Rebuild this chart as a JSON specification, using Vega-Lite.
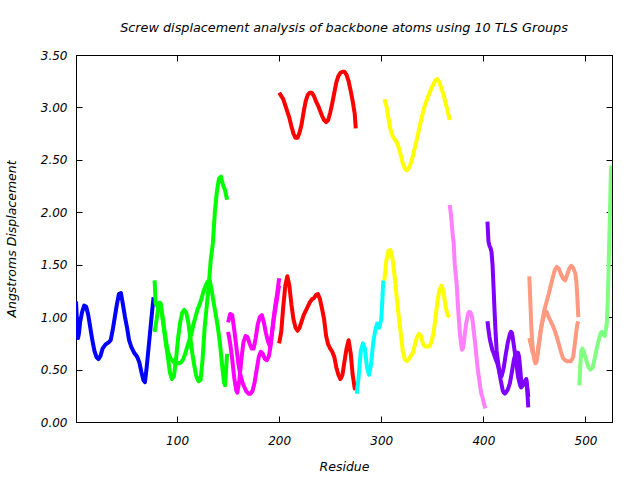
{
  "$schema": "https://vega.github.io/schema/vega-lite/v6.json",
  "width": 536,
  "height": 367,
  "autosize": {"type": "none"},
  "padding": {"left": 76, "top": 55, "right": 28, "bottom": 58},
  "background": "white",
  "title": {"text": "Screw displacement analysis of backbone atoms using 10 TLS Groups", "offset": 14},
  "config": {
    "view": {"stroke": "black", "strokeWidth": 1},
    "title": {"font": "DejaVu Sans", "fontStyle": "italic", "fontWeight": "normal", "fontSize": 12.8, "color": "black", "anchor": "middle"},
    "axis": {"labelFont": "DejaVu Sans", "labelFontStyle": "italic", "labelFontSize": 12, "labelColor": "black", "titleFont": "DejaVu Sans", "titleFontStyle": "italic", "titleFontWeight": "normal", "titleFontSize": 12.5, "titleColor": "black", "domainColor": "black", "tickColor": "black", "grid": false, "tickSize": -6}
  },
  "data": {"values": [
    {"s":"b","g":"1","r":1,"v":1.15},{"s":"b","g":"1","r":2,"v":0.95},{"s":"b","g":"1","r":3,"v":0.80},{"s":"b","g":"1","r":4,"v":0.85},{"s":"b","g":"1","r":5,"v":0.95},{"s":"b","g":"1","r":7,"v":1.05},{"s":"b","g":"1","r":9,"v":1.11},{"s":"b","g":"1","r":11,"v":1.10},{"s":"b","g":"1","r":13,"v":1.02},{"s":"b","g":"1","r":15,"v":0.90},{"s":"b","g":"1","r":17,"v":0.78},{"s":"b","g":"1","r":19,"v":0.68},{"s":"b","g":"1","r":21,"v":0.62},{"s":"b","g":"1","r":23,"v":0.60},{"s":"b","g":"1","r":25,"v":0.63},{"s":"b","g":"1","r":27,"v":0.70},{"s":"b","g":"1","r":30,"v":0.74},{"s":"b","g":"1","r":33,"v":0.76},{"s":"b","g":"1","r":35,"v":0.78},{"s":"b","g":"1","r":37,"v":0.88},{"s":"b","g":"1","r":39,"v":1.00},{"s":"b","g":"1","r":41,"v":1.12},{"s":"b","g":"1","r":43,"v":1.22},{"s":"b","g":"1","r":45,"v":1.23},{"s":"b","g":"1","r":47,"v":1.12},{"s":"b","g":"1","r":49,"v":1.00},{"s":"b","g":"1","r":51,"v":0.90},{"s":"b","g":"1","r":53,"v":0.78},{"s":"b","g":"1","r":55,"v":0.72},{"s":"b","g":"1","r":58,"v":0.66},{"s":"b","g":"1","r":61,"v":0.62},{"s":"b","g":"1","r":63,"v":0.57},{"s":"b","g":"1","r":65,"v":0.48},{"s":"b","g":"1","r":67,"v":0.40},{"s":"b","g":"1","r":68.5,"v":0.38},{"s":"b","g":"1","r":70,"v":0.50},{"s":"b","g":"1","r":72,"v":0.70},{"s":"b","g":"1","r":74,"v":0.90},{"s":"b","g":"1","r":76,"v":1.10},{"s":"b","g":"1","r":77,"v":1.19},

    {"s":"ga","g":"2","r":78,"v":1.35},{"s":"ga","g":"2","r":79,"v":1.13},{"s":"ga","g":"2","r":81,"v":1.10},{"s":"ga","g":"2","r":83,"v":1.14},{"s":"ga","g":"2","r":85,"v":1.05},{"s":"ga","g":"2","r":87,"v":0.90},{"s":"ga","g":"2","r":89,"v":0.75},{"s":"ga","g":"2","r":91,"v":0.62},{"s":"ga","g":"2","r":93,"v":0.47},{"s":"ga","g":"2","r":95,"v":0.41},{"s":"ga","g":"2","r":97,"v":0.44},{"s":"ga","g":"2","r":99,"v":0.60},{"s":"ga","g":"2","r":101,"v":0.80},{"s":"ga","g":"2","r":103,"v":0.95},{"s":"ga","g":"2","r":105,"v":1.04},{"s":"ga","g":"2","r":107,"v":1.07},{"s":"ga","g":"2","r":109,"v":1.04},{"s":"ga","g":"2","r":111,"v":0.95},{"s":"ga","g":"2","r":113,"v":0.80},{"s":"ga","g":"2","r":115,"v":0.65},{"s":"ga","g":"2","r":117,"v":0.53},{"s":"ga","g":"2","r":119,"v":0.43},{"s":"ga","g":"2","r":121,"v":0.39},{"s":"ga","g":"2","r":123,"v":0.40},{"s":"ga","g":"2","r":125,"v":0.60},{"s":"ga","g":"2","r":127,"v":0.90},{"s":"ga","g":"2","r":129,"v":1.10},{"s":"ga","g":"2","r":131,"v":1.30},{"s":"ga","g":"2","r":133,"v":1.55},{"s":"ga","g":"2","r":135,"v":1.70},{"s":"ga","g":"2","r":137,"v":2.00},{"s":"ga","g":"2","r":139,"v":2.20},{"s":"ga","g":"2","r":141,"v":2.32},{"s":"ga","g":"2","r":143,"v":2.34},{"s":"ga","g":"2","r":145,"v":2.26},{"s":"ga","g":"2","r":147,"v":2.21},{"s":"ga","g":"2","r":149,"v":2.12},

    {"s":"gb","g":"2","r":78,"v":0.86},{"s":"gb","g":"2","r":80,"v":0.98},{"s":"gb","g":"2","r":82,"v":1.12},{"s":"gb","g":"2","r":84,"v":1.13},{"s":"gb","g":"2","r":86,"v":0.98},{"s":"gb","g":"2","r":88,"v":0.85},{"s":"gb","g":"2","r":90,"v":0.72},{"s":"gb","g":"2","r":92,"v":0.64},{"s":"gb","g":"2","r":94,"v":0.60},{"s":"gb","g":"2","r":96,"v":0.58},{"s":"gb","g":"2","r":98,"v":0.56},{"s":"gb","g":"2","r":100,"v":0.56},{"s":"gb","g":"2","r":102,"v":0.56},{"s":"gb","g":"2","r":104,"v":0.57},{"s":"gb","g":"2","r":106,"v":0.60},{"s":"gb","g":"2","r":108,"v":0.65},{"s":"gb","g":"2","r":110,"v":0.72},{"s":"gb","g":"2","r":112,"v":0.78},{"s":"gb","g":"2","r":114,"v":0.84},{"s":"gb","g":"2","r":116,"v":0.93},{"s":"gb","g":"2","r":118,"v":1.00},{"s":"gb","g":"2","r":120,"v":1.07},{"s":"gb","g":"2","r":122,"v":1.12},{"s":"gb","g":"2","r":124,"v":1.18},{"s":"gb","g":"2","r":126,"v":1.25},{"s":"gb","g":"2","r":128,"v":1.30},{"s":"gb","g":"2","r":130,"v":1.34},{"s":"gb","g":"2","r":132,"v":1.35},{"s":"gb","g":"2","r":134,"v":1.25},{"s":"gb","g":"2","r":136,"v":1.13},{"s":"gb","g":"2","r":138,"v":1.02},{"s":"gb","g":"2","r":140,"v":0.90},{"s":"gb","g":"2","r":142,"v":0.75},{"s":"gb","g":"2","r":144,"v":0.55},{"s":"gb","g":"2","r":146,"v":0.38},{"s":"gb","g":"2","r":147,"v":0.35},{"s":"gb","g":"2","r":148,"v":0.50},{"s":"gb","g":"2","r":149,"v":0.65},

    {"s":"ma","g":"3","r":150,"v":0.95},{"s":"ma","g":"3","r":152,"v":1.03},{"s":"ma","g":"3","r":154,"v":1.02},{"s":"ma","g":"3","r":156,"v":0.88},{"s":"ma","g":"3","r":158,"v":0.72},{"s":"ma","g":"3","r":160,"v":0.56},{"s":"ma","g":"3","r":162,"v":0.45},{"s":"ma","g":"3","r":164,"v":0.38},{"s":"ma","g":"3","r":166,"v":0.33},{"s":"ma","g":"3","r":168,"v":0.29},{"s":"ma","g":"3","r":170,"v":0.27},{"s":"ma","g":"3","r":172,"v":0.27},{"s":"ma","g":"3","r":174,"v":0.30},{"s":"ma","g":"3","r":176,"v":0.38},{"s":"ma","g":"3","r":178,"v":0.50},{"s":"ma","g":"3","r":180,"v":0.62},{"s":"ma","g":"3","r":182,"v":0.67},{"s":"ma","g":"3","r":184,"v":0.65},{"s":"ma","g":"3","r":186,"v":0.60},{"s":"ma","g":"3","r":188,"v":0.59},{"s":"ma","g":"3","r":190,"v":0.63},{"s":"ma","g":"3","r":192,"v":0.75},{"s":"ma","g":"3","r":194,"v":0.95},{"s":"ma","g":"3","r":196,"v":1.10},{"s":"ma","g":"3","r":198,"v":1.22},{"s":"ma","g":"3","r":200,"v":1.37},

    {"s":"mb","g":"3","r":150,"v":0.86},{"s":"mb","g":"3","r":152,"v":0.75},{"s":"mb","g":"3","r":154,"v":0.60},{"s":"mb","g":"3","r":156,"v":0.42},{"s":"mb","g":"3","r":158,"v":0.30},{"s":"mb","g":"3","r":159,"v":0.28},{"s":"mb","g":"3","r":161,"v":0.40},{"s":"mb","g":"3","r":163,"v":0.60},{"s":"mb","g":"3","r":165,"v":0.76},{"s":"mb","g":"3","r":167,"v":0.82},{"s":"mb","g":"3","r":169,"v":0.81},{"s":"mb","g":"3","r":171,"v":0.75},{"s":"mb","g":"3","r":173,"v":0.70},{"s":"mb","g":"3","r":175,"v":0.70},{"s":"mb","g":"3","r":177,"v":0.80},{"s":"mb","g":"3","r":179,"v":0.93},{"s":"mb","g":"3","r":181,"v":1.00},{"s":"mb","g":"3","r":183,"v":1.02},{"s":"mb","g":"3","r":185,"v":0.95},{"s":"mb","g":"3","r":187,"v":0.85},{"s":"mb","g":"3","r":189,"v":0.77},{"s":"mb","g":"3","r":191,"v":0.72},{"s":"mb","g":"3","r":193,"v":0.85},{"s":"mb","g":"3","r":195,"v":1.00},{"s":"mb","g":"3","r":197,"v":1.12},{"s":"mb","g":"3","r":199,"v":1.25},{"s":"mb","g":"3","r":200,"v":1.30},

    {"s":"ra","g":"4","r":200,"v":3.14},{"s":"ra","g":"4","r":202,"v":3.11},{"s":"ra","g":"4","r":204,"v":3.08},{"s":"ra","g":"4","r":206,"v":3.02},{"s":"ra","g":"4","r":208,"v":2.96},{"s":"ra","g":"4","r":210,"v":2.90},{"s":"ra","g":"4","r":212,"v":2.82},{"s":"ra","g":"4","r":214,"v":2.75},{"s":"ra","g":"4","r":216,"v":2.71},{"s":"ra","g":"4","r":218,"v":2.71},{"s":"ra","g":"4","r":220,"v":2.76},{"s":"ra","g":"4","r":222,"v":2.84},{"s":"ra","g":"4","r":224,"v":2.96},{"s":"ra","g":"4","r":226,"v":3.06},{"s":"ra","g":"4","r":228,"v":3.12},{"s":"ra","g":"4","r":230,"v":3.14},{"s":"ra","g":"4","r":232,"v":3.14},{"s":"ra","g":"4","r":234,"v":3.11},{"s":"ra","g":"4","r":236,"v":3.06},{"s":"ra","g":"4","r":238,"v":3.02},{"s":"ra","g":"4","r":240,"v":2.97},{"s":"ra","g":"4","r":242,"v":2.92},{"s":"ra","g":"4","r":244,"v":2.88},{"s":"ra","g":"4","r":246,"v":2.86},{"s":"ra","g":"4","r":248,"v":2.88},{"s":"ra","g":"4","r":250,"v":2.95},{"s":"ra","g":"4","r":252,"v":3.04},{"s":"ra","g":"4","r":254,"v":3.14},{"s":"ra","g":"4","r":256,"v":3.24},{"s":"ra","g":"4","r":258,"v":3.30},{"s":"ra","g":"4","r":260,"v":3.33},{"s":"ra","g":"4","r":262,"v":3.34},{"s":"ra","g":"4","r":264,"v":3.34},{"s":"ra","g":"4","r":266,"v":3.31},{"s":"ra","g":"4","r":268,"v":3.25},{"s":"ra","g":"4","r":270,"v":3.16},{"s":"ra","g":"4","r":272,"v":3.06},{"s":"ra","g":"4","r":274,"v":2.94},{"s":"ra","g":"4","r":275,"v":2.80},

    {"s":"rb","g":"4","r":200,"v":0.75},{"s":"rb","g":"4","r":202,"v":0.86},{"s":"rb","g":"4","r":204,"v":1.10},{"s":"rb","g":"4","r":206,"v":1.30},{"s":"rb","g":"4","r":208,"v":1.39},{"s":"rb","g":"4","r":210,"v":1.30},{"s":"rb","g":"4","r":212,"v":1.12},{"s":"rb","g":"4","r":214,"v":0.98},{"s":"rb","g":"4","r":216,"v":0.90},{"s":"rb","g":"4","r":218,"v":0.87},{"s":"rb","g":"4","r":220,"v":0.90},{"s":"rb","g":"4","r":222,"v":0.96},{"s":"rb","g":"4","r":224,"v":1.02},{"s":"rb","g":"4","r":226,"v":1.06},{"s":"rb","g":"4","r":228,"v":1.10},{"s":"rb","g":"4","r":230,"v":1.14},{"s":"rb","g":"4","r":232,"v":1.17},{"s":"rb","g":"4","r":234,"v":1.18},{"s":"rb","g":"4","r":236,"v":1.21},{"s":"rb","g":"4","r":238,"v":1.22},{"s":"rb","g":"4","r":240,"v":1.17},{"s":"rb","g":"4","r":242,"v":1.08},{"s":"rb","g":"4","r":244,"v":0.98},{"s":"rb","g":"4","r":246,"v":0.82},{"s":"rb","g":"4","r":248,"v":0.74},{"s":"rb","g":"4","r":250,"v":0.70},{"s":"rb","g":"4","r":252,"v":0.67},{"s":"rb","g":"4","r":254,"v":0.62},{"s":"rb","g":"4","r":256,"v":0.52},{"s":"rb","g":"4","r":258,"v":0.45},{"s":"rb","g":"4","r":260,"v":0.41},{"s":"rb","g":"4","r":262,"v":0.45},{"s":"rb","g":"4","r":264,"v":0.58},{"s":"rb","g":"4","r":266,"v":0.70},{"s":"rb","g":"4","r":268,"v":0.78},{"s":"rb","g":"4","r":270,"v":0.66},{"s":"rb","g":"4","r":272,"v":0.45},{"s":"rb","g":"4","r":274,"v":0.32},{"s":"rb","g":"4","r":275,"v":0.38},

    {"s":"c","g":"5","r":276,"v":0.27},{"s":"c","g":"5","r":278,"v":0.45},{"s":"c","g":"5","r":280,"v":0.68},{"s":"c","g":"5","r":282,"v":0.75},{"s":"c","g":"5","r":284,"v":0.70},{"s":"c","g":"5","r":286,"v":0.52},{"s":"c","g":"5","r":288,"v":0.45},{"s":"c","g":"5","r":290,"v":0.55},{"s":"c","g":"5","r":292,"v":0.75},{"s":"c","g":"5","r":294,"v":0.87},{"s":"c","g":"5","r":296,"v":0.94},{"s":"c","g":"5","r":298,"v":0.90},{"s":"c","g":"5","r":300,"v":0.98},{"s":"c","g":"5","r":301,"v":1.15},{"s":"c","g":"5","r":302,"v":1.35},

    {"s":"ya","g":"6","r":303,"v":3.08},{"s":"ya","g":"6","r":305,"v":3.02},{"s":"ya","g":"6","r":307,"v":2.90},{"s":"ya","g":"6","r":309,"v":2.79},{"s":"ya","g":"6","r":311,"v":2.73},{"s":"ya","g":"6","r":313,"v":2.70},{"s":"ya","g":"6","r":315,"v":2.67},{"s":"ya","g":"6","r":317,"v":2.62},{"s":"ya","g":"6","r":319,"v":2.55},{"s":"ya","g":"6","r":321,"v":2.47},{"s":"ya","g":"6","r":323,"v":2.42},{"s":"ya","g":"6","r":325,"v":2.40},{"s":"ya","g":"6","r":327,"v":2.42},{"s":"ya","g":"6","r":329,"v":2.47},{"s":"ya","g":"6","r":331,"v":2.54},{"s":"ya","g":"6","r":333,"v":2.62},{"s":"ya","g":"6","r":335,"v":2.70},{"s":"ya","g":"6","r":337,"v":2.79},{"s":"ya","g":"6","r":339,"v":2.88},{"s":"ya","g":"6","r":341,"v":2.96},{"s":"ya","g":"6","r":343,"v":3.03},{"s":"ya","g":"6","r":345,"v":3.08},{"s":"ya","g":"6","r":347,"v":3.13},{"s":"ya","g":"6","r":349,"v":3.18},{"s":"ya","g":"6","r":351,"v":3.22},{"s":"ya","g":"6","r":353,"v":3.26},{"s":"ya","g":"6","r":355,"v":3.27},{"s":"ya","g":"6","r":357,"v":3.24},{"s":"ya","g":"6","r":359,"v":3.18},{"s":"ya","g":"6","r":361,"v":3.12},{"s":"ya","g":"6","r":363,"v":3.04},{"s":"ya","g":"6","r":365,"v":2.97},{"s":"ya","g":"6","r":367,"v":2.88},

    {"s":"yb","g":"6","r":303,"v":1.35},{"s":"yb","g":"6","r":305,"v":1.54},{"s":"yb","g":"6","r":307,"v":1.63},{"s":"yb","g":"6","r":309,"v":1.64},{"s":"yb","g":"6","r":311,"v":1.56},{"s":"yb","g":"6","r":313,"v":1.40},{"s":"yb","g":"6","r":315,"v":1.20},{"s":"yb","g":"6","r":317,"v":1.02},{"s":"yb","g":"6","r":319,"v":0.85},{"s":"yb","g":"6","r":321,"v":0.68},{"s":"yb","g":"6","r":323,"v":0.60},{"s":"yb","g":"6","r":325,"v":0.58},{"s":"yb","g":"6","r":327,"v":0.60},{"s":"yb","g":"6","r":329,"v":0.63},{"s":"yb","g":"6","r":331,"v":0.66},{"s":"yb","g":"6","r":333,"v":0.74},{"s":"yb","g":"6","r":335,"v":0.81},{"s":"yb","g":"6","r":337,"v":0.84},{"s":"yb","g":"6","r":339,"v":0.82},{"s":"yb","g":"6","r":341,"v":0.74},{"s":"yb","g":"6","r":343,"v":0.72},{"s":"yb","g":"6","r":345,"v":0.72},{"s":"yb","g":"6","r":347,"v":0.72},{"s":"yb","g":"6","r":349,"v":0.76},{"s":"yb","g":"6","r":351,"v":0.84},{"s":"yb","g":"6","r":353,"v":0.98},{"s":"yb","g":"6","r":355,"v":1.15},{"s":"yb","g":"6","r":357,"v":1.26},{"s":"yb","g":"6","r":359,"v":1.30},{"s":"yb","g":"6","r":361,"v":1.24},{"s":"yb","g":"6","r":363,"v":1.10},{"s":"yb","g":"6","r":365,"v":1.02},{"s":"yb","g":"6","r":367,"v":1.00},

    {"s":"p","g":"7","r":367,"v":2.07},{"s":"p","g":"7","r":368,"v":2.00},{"s":"p","g":"7","r":369,"v":1.90},{"s":"p","g":"7","r":370,"v":1.78},{"s":"p","g":"7","r":371,"v":1.70},{"s":"p","g":"7","r":372,"v":1.50},{"s":"p","g":"7","r":373,"v":1.40},{"s":"p","g":"7","r":374,"v":1.30},{"s":"p","g":"7","r":375,"v":1.12},{"s":"p","g":"7","r":376,"v":0.98},{"s":"p","g":"7","r":377,"v":0.85},{"s":"p","g":"7","r":378,"v":0.76},{"s":"p","g":"7","r":379,"v":0.69},{"s":"p","g":"7","r":380,"v":0.70},{"s":"p","g":"7","r":381,"v":0.76},{"s":"p","g":"7","r":382,"v":0.85},{"s":"p","g":"7","r":383,"v":0.93},{"s":"p","g":"7","r":384,"v":0.98},{"s":"p","g":"7","r":385,"v":1.03},{"s":"p","g":"7","r":386,"v":1.05},{"s":"p","g":"7","r":387,"v":1.05},{"s":"p","g":"7","r":388,"v":1.03},{"s":"p","g":"7","r":389,"v":1.00},{"s":"p","g":"7","r":390,"v":0.92},{"s":"p","g":"7","r":391,"v":0.83},{"s":"p","g":"7","r":392,"v":0.75},{"s":"p","g":"7","r":393,"v":0.65},{"s":"p","g":"7","r":394,"v":0.55},{"s":"p","g":"7","r":395,"v":0.47},{"s":"p","g":"7","r":396,"v":0.40},{"s":"p","g":"7","r":397,"v":0.33},{"s":"p","g":"7","r":398,"v":0.27},{"s":"p","g":"7","r":399,"v":0.24},{"s":"p","g":"7","r":400,"v":0.20},{"s":"p","g":"7","r":401,"v":0.16},{"s":"p","g":"7","r":402,"v":0.13},

    {"s":"pa","g":"8","r":404,"v":1.91},{"s":"pa","g":"8","r":405,"v":1.72},{"s":"pa","g":"8","r":406,"v":1.68},{"s":"pa","g":"8","r":407,"v":1.66},{"s":"pa","g":"8","r":408,"v":1.62},{"s":"pa","g":"8","r":409,"v":1.50},{"s":"pa","g":"8","r":410,"v":1.28},{"s":"pa","g":"8","r":411,"v":1.05},{"s":"pa","g":"8","r":412,"v":0.85},{"s":"pa","g":"8","r":413,"v":0.68},{"s":"pa","g":"8","r":414,"v":0.60},{"s":"pa","g":"8","r":415,"v":0.53},{"s":"pa","g":"8","r":416,"v":0.46},{"s":"pa","g":"8","r":417,"v":0.40},{"s":"pa","g":"8","r":418,"v":0.35},{"s":"pa","g":"8","r":419,"v":0.30},{"s":"pa","g":"8","r":420,"v":0.28},{"s":"pa","g":"8","r":421,"v":0.27},{"s":"pa","g":"8","r":422,"v":0.28},{"s":"pa","g":"8","r":424,"v":0.31},{"s":"pa","g":"8","r":426,"v":0.37},{"s":"pa","g":"8","r":428,"v":0.48},{"s":"pa","g":"8","r":430,"v":0.60},{"s":"pa","g":"8","r":432,"v":0.66},{"s":"pa","g":"8","r":434,"v":0.66},{"s":"pa","g":"8","r":435,"v":0.62},{"s":"pa","g":"8","r":436,"v":0.52},{"s":"pa","g":"8","r":437,"v":0.40},{"s":"pa","g":"8","r":438,"v":0.35},{"s":"pa","g":"8","r":440,"v":0.36},{"s":"pa","g":"8","r":442,"v":0.40},{"s":"pa","g":"8","r":443,"v":0.30},{"s":"pa","g":"8","r":444,"v":0.14},

    {"s":"pb","g":"8","r":404,"v":0.96},{"s":"pb","g":"8","r":405,"v":0.88},{"s":"pb","g":"8","r":406,"v":0.81},{"s":"pb","g":"8","r":407,"v":0.76},{"s":"pb","g":"8","r":408,"v":0.72},{"s":"pb","g":"8","r":409,"v":0.68},{"s":"pb","g":"8","r":410,"v":0.66},{"s":"pb","g":"8","r":412,"v":0.60},{"s":"pb","g":"8","r":414,"v":0.55},{"s":"pb","g":"8","r":416,"v":0.46},{"s":"pb","g":"8","r":417,"v":0.43},{"s":"pb","g":"8","r":418,"v":0.44},{"s":"pb","g":"8","r":419,"v":0.48},{"s":"pb","g":"8","r":420,"v":0.52},{"s":"pb","g":"8","r":422,"v":0.65},{"s":"pb","g":"8","r":424,"v":0.76},{"s":"pb","g":"8","r":426,"v":0.84},{"s":"pb","g":"8","r":427,"v":0.86},{"s":"pb","g":"8","r":428,"v":0.85},{"s":"pb","g":"8","r":429,"v":0.79},{"s":"pb","g":"8","r":430,"v":0.72},{"s":"pb","g":"8","r":432,"v":0.58},{"s":"pb","g":"8","r":434,"v":0.43},{"s":"pb","g":"8","r":436,"v":0.35},{"s":"pb","g":"8","r":437,"v":0.33},{"s":"pb","g":"8","r":438,"v":0.34},{"s":"pb","g":"8","r":440,"v":0.38},{"s":"pb","g":"8","r":442,"v":0.41},{"s":"pb","g":"8","r":443,"v":0.34},{"s":"pb","g":"8","r":444,"v":0.24},

    {"s":"sa","g":"9","r":445,"v":1.39},{"s":"sa","g":"9","r":446,"v":1.15},{"s":"sa","g":"9","r":447,"v":0.90},{"s":"sa","g":"9","r":448,"v":0.75},{"s":"sa","g":"9","r":449,"v":0.65},{"s":"sa","g":"9","r":450,"v":0.59},{"s":"sa","g":"9","r":451,"v":0.56},{"s":"sa","g":"9","r":452,"v":0.57},{"s":"sa","g":"9","r":453,"v":0.63},{"s":"sa","g":"9","r":454,"v":0.71},{"s":"sa","g":"9","r":455,"v":0.78},{"s":"sa","g":"9","r":456,"v":0.86},{"s":"sa","g":"9","r":457,"v":0.92},{"s":"sa","g":"9","r":459,"v":1.00},{"s":"sa","g":"9","r":461,"v":1.04},{"s":"sa","g":"9","r":462,"v":1.05},{"s":"sa","g":"9","r":464,"v":1.00},{"s":"sa","g":"9","r":466,"v":0.96},{"s":"sa","g":"9","r":468,"v":0.92},{"s":"sa","g":"9","r":470,"v":0.87},{"s":"sa","g":"9","r":472,"v":0.81},{"s":"sa","g":"9","r":474,"v":0.74},{"s":"sa","g":"9","r":476,"v":0.67},{"s":"sa","g":"9","r":478,"v":0.61},{"s":"sa","g":"9","r":480,"v":0.59},{"s":"sa","g":"9","r":482,"v":0.58},{"s":"sa","g":"9","r":484,"v":0.58},{"s":"sa","g":"9","r":486,"v":0.58},{"s":"sa","g":"9","r":488,"v":0.62},{"s":"sa","g":"9","r":489,"v":0.70},{"s":"sa","g":"9","r":490,"v":0.78},{"s":"sa","g":"9","r":491,"v":0.86},{"s":"sa","g":"9","r":492,"v":0.93},{"s":"sa","g":"9","r":493,"v":0.96},

    {"s":"sb","g":"9","r":445,"v":0.80},{"s":"sb","g":"9","r":446,"v":0.76},{"s":"sb","g":"9","r":447,"v":0.72},{"s":"sb","g":"9","r":448,"v":0.67},{"s":"sb","g":"9","r":450,"v":0.63},{"s":"sb","g":"9","r":452,"v":0.61},{"s":"sb","g":"9","r":453,"v":0.65},{"s":"sb","g":"9","r":454,"v":0.73},{"s":"sb","g":"9","r":456,"v":0.86},{"s":"sb","g":"9","r":458,"v":0.98},{"s":"sb","g":"9","r":460,"v":1.08},{"s":"sb","g":"9","r":462,"v":1.15},{"s":"sb","g":"9","r":464,"v":1.22},{"s":"sb","g":"9","r":466,"v":1.30},{"s":"sb","g":"9","r":468,"v":1.38},{"s":"sb","g":"9","r":470,"v":1.45},{"s":"sb","g":"9","r":472,"v":1.48},{"s":"sb","g":"9","r":474,"v":1.46},{"s":"sb","g":"9","r":476,"v":1.41},{"s":"sb","g":"9","r":478,"v":1.37},{"s":"sb","g":"9","r":480,"v":1.35},{"s":"sb","g":"9","r":482,"v":1.40},{"s":"sb","g":"9","r":484,"v":1.46},{"s":"sb","g":"9","r":486,"v":1.49},{"s":"sb","g":"9","r":488,"v":1.47},{"s":"sb","g":"9","r":490,"v":1.42},{"s":"sb","g":"9","r":491,"v":1.35},{"s":"sb","g":"9","r":492,"v":1.20},{"s":"sb","g":"9","r":493,"v":1.00},

    {"s":"l","g":"10","r":494,"v":0.35},{"s":"l","g":"10","r":495,"v":0.55},{"s":"l","g":"10","r":496,"v":0.68},{"s":"l","g":"10","r":497,"v":0.70},{"s":"l","g":"10","r":498,"v":0.68},{"s":"l","g":"10","r":499,"v":0.65},{"s":"l","g":"10","r":501,"v":0.58},{"s":"l","g":"10","r":503,"v":0.52},{"s":"l","g":"10","r":505,"v":0.50},{"s":"l","g":"10","r":507,"v":0.52},{"s":"l","g":"10","r":509,"v":0.60},{"s":"l","g":"10","r":511,"v":0.70},{"s":"l","g":"10","r":513,"v":0.78},{"s":"l","g":"10","r":515,"v":0.85},{"s":"l","g":"10","r":516,"v":0.86},{"s":"l","g":"10","r":518,"v":0.83},{"s":"l","g":"10","r":519,"v":0.82},{"s":"l","g":"10","r":520,"v":0.88},{"s":"l","g":"10","r":521,"v":0.95},{"s":"l","g":"10","r":522,"v":1.20},{"s":"l","g":"10","r":523,"v":1.60},{"s":"l","g":"10","r":524,"v":2.00},{"s":"l","g":"10","r":525,"v":2.43},{"s":"l","g":"10","r":526,"v":2.30}
  ]},
  "layer": [
    {
      "mark": {"type": "line", "strokeWidth": 4, "strokeJoin": "round", "clip": true},
      "encoding": {
        "x": {"field": "r", "type": "quantitative", "scale": {"domain": [1, 526], "nice": false, "zero": false},
              "axis": {"title": "Residue", "values": [100, 200, 300, 400, 500], "labelPadding": 19, "titlePadding": 14}},
        "y": {"field": "v", "type": "quantitative", "scale": {"domain": [0, 3.5], "nice": false},
              "axis": {"title": "Angstroms Displacement", "values": [0, 0.5, 1, 1.5, 2, 2.5, 3, 3.5], "format": ".2f", "labelPadding": 15, "titlePadding": 22}},
        "color": {"field": "g", "type": "nominal", "legend": null,
                  "scale": {"domain": ["1","2","3","4","5","6","7","8","9","10"],
                            "range": ["#0000ff","#00ff00","#ff00ff","#ff0000","#00ffff","#ffff00","#ff80ff","#8000ff","#ff9980","#80ff80"]}},
        "detail": {"field": "s", "type": "nominal"}
      }
    },
    {
      "mark": {"type": "line", "opacity": 0},
      "encoding": {
        "x": {"field": "r", "type": "quantitative", "axis": {"orient": "top", "title": null, "labels": false, "values": [100, 200, 300, 400, 500]}},
        "y": {"field": "v", "type": "quantitative", "axis": {"orient": "right", "title": null, "labels": false, "values": [0, 0.5, 1, 1.5, 2, 2.5, 3, 3.5]}},
        "detail": {"field": "s", "type": "nominal"}
      }
    }
  ],
  "resolve": {"axis": {"x": "independent", "y": "independent"}}
}
